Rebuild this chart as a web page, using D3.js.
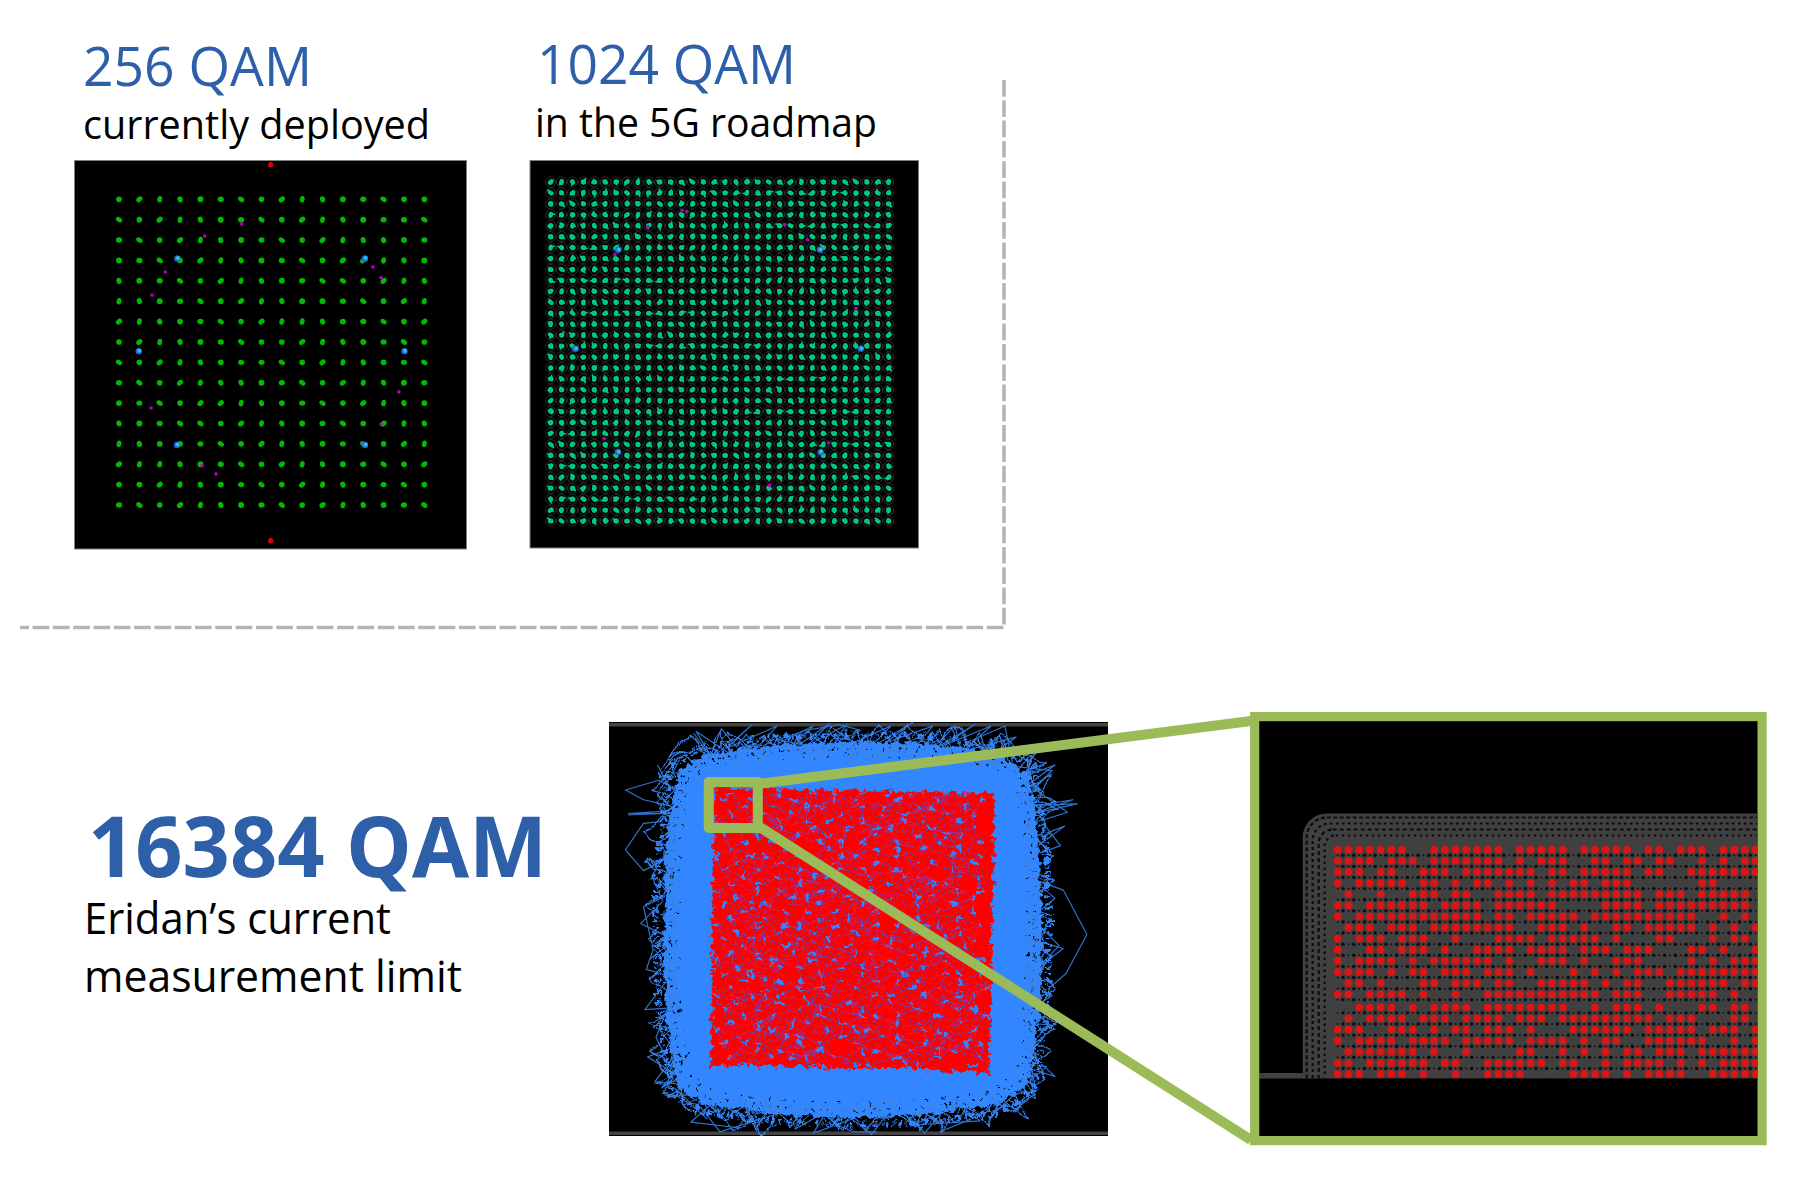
<!DOCTYPE html>
<html><head><meta charset="utf-8"><style>html,body{margin:0;background:#fff}svg{display:block}text{font-family:"Open Sans","Noto Sans",sans-serif}</style>
<script src="https://cdn.jsdelivr.net/npm/d3@7/dist/d3.min.js"></script></head><body><svg id="c" width="1812" height="1192"></svg>
<script>
// ---------- data ----------
const levels256=[-15,-13,-11,-9,-7,-5,-3,-1,1,3,5,7,9,11,13,15];
const levels1024=[-31,-29,-27,-25,-23,-21,-19,-17,-15,-13,-11,-9,-7,-5,-3,-1,1,3,5,7,9,11,13,15,17,19,21,23,25,27,29,31];
const pilots256=[[-0.1,18.4],[-0.1,-18.5]];
const blobs256=[[-9.27,9.2],[9.17,9.2],[-9.3,-9.1],[9.17,-9.1],[-13.06,0.1],[13.05,0.1]];
const stray256=[[-2.94,12.6],[-6.58,11.4],[-10.45,7.86],[-11.75,5.6],[9.96,8.35],[10.74,7.3],[-11.85,-5.48],[-5.47,-11.95],[-6.84,-11.16],[12.5,-3.9],[10.74,-7.05]];
const blobs1024=[[-18.6,18.6],[18.4,18.6],[-18.65,-18.4],[18.5,-18.4],[-26.45,0.5],[25.9,0.5]];
const stray1024=[[-6.05,25.6],[-13.15,22.8],[11.9,23.2],[16.15,20.45],[-19.2,17.7],[25,7.85],[-21.2,-15.9],[19.95,-16.7],[9.15,-24.5],[-6.9,25.8]];
// 16384 QAM: outlines and trajectories in percent of full scale, flat I,Q lists
const redOutline=[-98,101,-50,100,0,99,50,98,102,97,101,50,100,0,99,-50,98,-103,60,-102,50,-99,0,-100,-50,-98,-101,-98,-100,-50,-100,0,-99,50];
const solidOutline=[-112,100,-100,112,-60,116,0,119,60,118,100,112,113,100,120,60,122,20,121,-20,119,-60,113,-100,100,-112,60,-118,0,-120,-60,-117,-100,-110,-112,-100,-118,-60,-121,-20,-121,20,-118,60];
const haloRingA=[-118,106,-100,118,-50,123,0,125,50,124,100,118,119,104,125,60,127,0,125,-60,118,-104,100,-118,50,-124,0,-126,-50,-124,-100,-117,-116,-106,-124,-60,-126,0,-124,60];
const haloRingB=[-122,110,-102,122,-50,128,0,130,50,129,102,122,123,108,130,60,132,0,130,-60,122,-108,102,-122,50,-129,0,-131,-50,-129,-102,-122,-121,-110,-129,-60,-131,0,-129,60];
const haloRingC=[-126,114,-104,127,-50,133,0,135,50,134,104,127,127,112,135,60,137,0,135,-60,127,-112,104,-127,50,-134,0,-136,-50,-134,-104,-127,-126,-114,-134,-60,-136,0,-134,60];
const haloRingD=[-130,118,-106,132,-50,138,0,140,50,139,106,132,131,116,140,60,142,0,140,-60,131,-116,106,-132,50,-139,0,-141,-50,-139,-106,-132,-130,-118,-139,-60,-141,0,-139,60];
const tracesNear=[
[-130,118,-118,140,-104,122,-92,135,-80,120,-66,142,-52,126,-40,138,-28,122,-14,146,0,128,12,140,26,124,40,147,52,130,66,142,78,124,92,140,100,122,110,134,118,118,133,128,124,106,142,112,128,92,148,84,126,72,138,60,124,48,146,36,128,24,141,10,124,0,140,-14,126,-28,146,-40,127,-52,136,-66,124,-78,143,-88,127,-100,135,-114,118,-120,126,-136,108,-124,98,-142,86,-126,72,-140,60,-124,46,-146,32,-128,18,-138,6,-122,-8,-144,-22,-126,-36,-140,-50,-124,-64,-146,-78,-128,-92,-136,-104,-122,-116,-134,-126,-116,-142,-110,-124,-100,-146,-88,-126,-74,-137,-60,-124,-48,-148,-36,-127,-22,-140,-10,-124,2,-146,16,-128,30,-136,44,-124,56,-150,70,-128,84,-142,98,-124,108,-130,118],
[-122,126,-110,132,-96,128,-88,143,-73,130,-60,134,-46,128,-33,143,-20,132,-6,136,8,129,20,144,33,131,47,137,60,129,74,146,84,133,96,130,108,140,122,124,138,120,128,112,136,100,126,86,142,76,130,66,145,54,129,42,134,30,125,18,144,4,130,-8,136,-22,125,-34,141,-46,131,-60,146,-72,128,-84,132,-96,140,-106,122,-112,130,-124,112,-132,104,-122,90,-136,78,-128,66,-144,54,-130,40,-134,26,-125,12,-145,-2,-131,-16,-136,-30,-126,-44,-142,-58,-130,-70,-134,-84,-144,-98,-126,-110,-130,-122,-122,-134,-118,-130,-104,-140,-94,-127,-82,-142,-70,-130,-56,-134,-42,-125,-30,-143,-14,-129,-2,-135,12,-126,24,-146,38,-130,50,-137,62,-127,76,-140,90,-128,100,-138,112,-122,126],
[-112,132,-98,124,-84,136,-70,126,-58,138,-44,132,-30,127,-16,139,-3,125,10,134,22,128,36,140,50,127,62,135,76,129,88,134,102,124,112,129,126,118,132,106,123,94,137,82,127,70,132,58,124,44,139,32,128,16,133,2,124,-10,137,-24,129,-38,134,-50,125,-64,139,-76,129,-90,126,-102,133,-112,124,-124,114,-128,100,-130,88,-138,76,-126,62,-133,50,-127,38,-140,24,-125,10,-133,-4,-127,-18,-139,-32,-128,-46,-132,-60,-125,-74,-138,-88,-127,-100,-132,-112,-124,-124,-110,-132,-100,-126,-88,-139,-76,-125,-64,-132,-50,-127,-36,-138,-24,-125,-10,-133,6,-128,18,-139,32,-125,46,-132,60,-127,72,-137,84,-125,96,-133,106,-124,118,-112,132],
[-136,108,-120,128,-108,116,-94,144,-84,122,-72,134,-60,120,-50,142,-36,124,-22,130,-10,120,4,143,16,122,30,132,44,121,58,140,70,122,84,136,94,120,106,138,116,112,130,124,122,98,146,92,125,80,132,68,122,52,143,40,124,26,130,12,122,-4,146,-18,124,-32,133,-44,122,-58,148,-68,125,-82,131,-94,122,-108,134,-120,116,-130,106,-116,94,-140,82,-122,70,-132,56,-122,42,-144,30,-124,16,-130,2,-120,-12,-142,-26,-122,-40,-132,-54,-120,-68,-143,-82,-124,-96,-134,-106,-118,-120,-128,-128,-106,-136,-116,-122,-80,-144,-66,-122,-54,-131,-40,-122,-26,-145,-8,-124,6,-132,20,-122,34,-146,46,-125,60,-135,72,-122,88,-146,102,-126,108,-136,108]
];
const tracesFar=[
[133,35,152,28,169,-4,154,-32,139,-45],
[126,89,162,90,130,83,159,93,128,88],
[128,98,144,114,116,117,110,146,87,136,99,122],
[140,69,153,74,130,57],
[138,-10,152,-14,135,-27],
[130,-68,143,-69,128,-76],
[121,-97,140,-99,118,-118,104,-131,99,-116],
[63,-146,85,-137,90,-123],
[18,-146,1,-146,-13,-140,6,-128],
[-109,-128,-95,-146,-57,-134,-37,-130],
[-142,-110,-119,-112,-133,-121,-105,-118],
[-131,78,-150,76,-163,57,-150,42,-130,52],
[-127,100,-139,107,-163,100,-150,93,-128,88],
[-161,83,-114,86],[-161,82,-120,84],[-161,83,-126,83],
[-114,141,-102,124,-94,144,-83,131,-76,140,-64,124],
[-140,118,-133,105,-124,122],
[-125,28,-150,16,-143,-15,-148,-29,-131,-34,-149,-58,-119,-56],
[-138,-73,-126,-89,-142,-110],
[74,146,78,131,72,144,60,132],
[-9,147,-33,143,-54,136,-20,130,6,143,-9,147],
[-128,64,-144,38,-136,20,-152,4,-128,-8,-146,-22],
[-126,-40,-141,-78,-128,-104,-147,-92,-120,-82],
[-70,-126,-82,-143,-116,-139,-98,-123,-124,-118,-104,-137],
[-30,-124,-41,-144,-18,-131,-28,-147,2,-136,14,-148,30,-127],
[38,-126,52,-147,66,-131,44,-141,92,-138,74,-124],
[110,-110,132,-122,126,-100,146,-106,122,-84,137,-92],
[124,-60,144,-48,128,-34,149,-12,129,8,146,22,126,40],
[128,52,150,60,136,78,155,84,127,104,146,118,120,108],
[98,124,118,138,80,128,100,146,66,132,88,147,54,126],
[40,124,58,146,24,134,44,149,10,128,28,146,-6,131],
[-18,126,-4,147,-32,132,-16,148,-46,127,-28,146,-60,130],
[-72,126,-54,146,-90,130,-72,147,-100,122,-112,142,-88,126]
];
// blue gaps in the red square (rows of cells; mark shows the gap's direction)
const gapRows=[
"..-...o..|....-..o...-.../..o....-..|...",
".o...|.....-.....|..o.....-.....o.....-.",
"....-...o....|.-.....-..|....o.-....|...",
"..|....-...-......o.....o..-.....|...o..",
"-....o...|...o..-....|.....-..o....-....",
"...-.....-..../....o...-.|.....-.....o..",
".o....|.....o...-......o.....|...-.|....",
"....-...-.|....-..|..-....o.....o.....-.",
"..o.......o.....o....../..-...-....|....",
"|....-.|....-.....-.o.....|.......o...o.",
"...o.....-....|..o.....-.....o.-.....-..",
".-....o.....o.....-..|....-.......|.....",
"....|....-....-.o.....o....|.o.....-..o.",
"..-...-.....|......-.....-.....-.o......",
"o.....|..o.....-.o....|.....o......|..-.",
"...-.......-.|.....-.....o...-.-.....o..",
".|...o.-.......o.....|.-.....|....-.....",
"....-.....|..-...-.....o..-.....o....|..",
"..o....o.......o...|.........o.....-....",
"-.....-...-.|....-...o.-..|...-.o.....o.",
"...|.....o....o.....-.......-......|....",
".o...-.|....-...|......o.|.....o.-...-..",
"....o.....-.....o..-.....-..o.......o...",
"..-...-....o..-.....|.o.....-.|.-.......",
"|.....o.|.....-..o.......-.......o..|.-.",
"...-.....-..o.....-..|.o....o.-.........",
".o...|.........|.....-.....|.....-.o..o.",
"....-..o.-..o.....o....-..o..-.....|....",
"..|.........-..-....|.......-...o......-",
"-....o.|.o......o......o.-....|....-.o..",
"...-.....-...|.....-.....o..o....-......",
".o....-.....-..o.|...|.......-.....o.|..",
"....|...o......-.....o.-..|.....-......-",
"..-...-....|.o....-.......o..o.....o....",
"o.....|.-.......o...|.-.......-.|....-..",
"...o......o.-.....-.....o.|......o......",
".-..|.-.....|..o....o.....-...-.....|.o.",
"......o..-.....-.....|.-....o...|.-.....",
"..|.....o..-.|...o........-.....-.....o.",
".o..-.........-.....-.o....|.o.......-.."
];
// close-up of the top-left corner: one string per symbol row, X = symbol hit
const zoomRows=[
"XXXXXXX..XXXXXXX.XXXXX.XXXXX.XX.XXX.XXXX",
"XXXX.XXX.XXXXXXX.X.XXX..XX.XX.XX..X.X.XX",
"XXX.XX..XXX.XXXXXXX.XX.XXXXX.XX..XXXXXXX",
"X.XXXXX.XX.X.XX.X.X.X.XX.XXX......XX....",
".X..X..XXX.XX..XXXX.XXXXXXXXX.XXX.XXXXX.",
"XX.XXXXXX.XXXX.XXXXXX....XXXX.XXXXXXXXX.",
"X.XXXXXXXXXXXX.XX.XXXXX.XXXXXXXXXX..X.X.",
".XXX.XXX.XXXXXXXX..XXX.X..XX.XXXXX.X.X.X",
"X.XXX.XXX..X...XXXX.XXXXX.X...XX...X.XX.",
"X..XX.XXX.X..XXXX.XXXX.XXX.XXX...XX.X..X",
"X.XXXX.X.XXXXXX.X..XXX.X..XXX....X.X.XXX",
"XXXX.X.XX.XXX.XXX.X...X.X.X.XXX.XXXXXXXX",
".XX.X...XX.XXX.XX..XXXXX.X.XX..XXXXXX.XX",
"XX.XXXX.X..X..XXXXXXXXXXX.XXX..XXXXX.X..",
"..XXXX.X.XXXX.XXXXXXXX..X.XXX.X...XX.XX.",
".X.XXXX.XXX.XXXX.XXX.XXXXXXXXX.XXX...XX.",
"XXX..XXX.X.XX.XXX.X...XXXXXX.XXXXX.XXX.X",
"X.XXXX.XXXX.XXXXX.XXXX.X.XX..XXXXXX..X.X",
".XXXXXXX.X..X....XX..X.X.X.XX.XXX.XXXXXX",
"XX.XXXXXX.XX..XXXXXX.XX..X.XXXX.X.X.XXXX",
"XXX.XXX.X..X..XXXX....XXXX.X.XXXX..XXXXX"
];
const zoomRowLevels=[0,1,2,3,4,5,6,7,8,9,10,11,12,13,14.18,15.18,16.18,17.18,18.18,19.18,20.18];
const labels=[
 {t:"256 QAM",x:83,y:86,w:229,s:55,c:"#2e5fa9",b:400},
 {t:"currently deployed",x:83,y:139,w:347,s:40,c:"#000",b:400},
 {t:"1024 QAM",x:537,y:84,w:259,s:55,c:"#2e5fa9",b:400},
 {t:"in the 5G roadmap",x:535,y:137,w:342,s:40,c:"#000",b:400},
 {t:"16384 QAM",x:88,y:877,w:459,s:84,c:"#2e5fa9",b:700},
 {t:"Eridan’s current",x:84,y:934,w:307,s:44,c:"#000",b:400},
 {t:"measurement limit",x:84,y:992,w:378,s:44,c:"#000",b:400}
];
// ---------- drawing ----------
const svg=d3.select("#c");
const defs=svg.append("defs");
[["soft",0.45],["softer",0.7]].forEach(([id,sd])=>defs.append("filter").attr("id",id).attr("x",-0.05).attr("y",-0.05).attr("width",1.1).attr("height",1.1).append("feGaussianBlur").attr("stdDeviation",sd));
function warp(id,freq,scale,sd){
  const f=defs.append("filter").attr("id",id).attr("x",-0.1).attr("y",-0.1).attr("width",1.2).attr("height",1.2);
  f.append("feTurbulence").attr("type","fractalNoise").attr("baseFrequency",freq).attr("numOctaves",2).attr("seed",4).attr("result","n");
  f.append("feDisplacementMap").attr("in","SourceGraphic").attr("in2","n").attr("scale",scale).attr("xChannelSelector","R").attr("yChannelSelector","G").attr("result","d");
  f.append("feGaussianBlur").attr("in","d").attr("stdDeviation",sd);
}
warp("warpFine",0.16,11,0.45);
warp("warpWide",0.035,20,0.4);
const clip=(id,x,y,w,h)=>defs.append("clipPath").attr("id",id).append("rect").attr("x",x).attr("y",y).attr("width",w).attr("height",h);
const cross=(a)=>a.flatMap(q=>a.map(i=>[i,q]));
const forms=[[2.6,2.3,0],[2.9,2.0,35],[2.4,2.4,0],[2.9,2.1,-40],[2.1,2.8,10],[2.6,2.2,70],[2.5,2.5,0]];
function constellation(o){
  const g=svg.append("g");
  g.append("rect").attr("x",o.x0).attr("y",o.y0).attr("width",o.x1-o.x0).attr("height",o.y1-o.y0).attr("fill","#000").attr("stroke","#808080").attr("stroke-width",1);
  const gg=g.append("g").attr("filter","url(#soft)");
  const x=d3.scaleLinear().domain(o.dom).range(o.xr),y=d3.scaleLinear().domain([o.dom[1],o.dom[0]]).range(o.yr);
  const pts=cross(o.levels);
  if(o.ring) gg.selectAll(".r").data(pts).join("circle").attr("class","r").attr("cx",d=>x(d[0])).attr("cy",d=>y(d[1])).attr("r",o.ring).attr("fill","none").attr("stroke","#2c2c2c").attr("stroke-width",1);
  gg.selectAll(".d").data(pts).join("ellipse").attr("class","d")
    .each(function(d,i){const f=forms[(i*3+(i%17)*5)%forms.length];d3.select(this).attr("rx",f[0]*o.k).attr("ry",f[1]*o.k).attr("transform",`translate(${x(d[0])},${y(d[1])}) rotate(${f[2]})`);})
    .attr("fill",o.color);
  if(o.second) gg.selectAll(".e").data(pts).join("ellipse").attr("class","e")
    .each(function(d,i){const f=forms[(i*5+(i%13)*2)%forms.length];d3.select(this).attr("rx",f[0]*1.15).attr("ry",f[1]*.5).attr("transform",`translate(${x(d[0])+((i%3)-1)*1.3},${y(d[1])+((i%5)-2)*.7}) rotate(${f[2]+45})`);})
    .attr("fill",o.color);
  (o.pilots||[]).forEach(d=>gg.append("circle").attr("cx",x(d[0])).attr("cy",y(d[1])).attr("r",2.6).attr("fill","#e00000"));
  o.stray.forEach(d=>gg.append("circle").attr("cx",x(d[0])).attr("cy",y(d[1])).attr("r",1.8).attr("fill","#b800b8"));
  o.blobs.forEach(d=>{gg.append("circle").attr("cx",x(d[0])).attr("cy",y(d[1])).attr("r",3.2).attr("fill","#2a60d8");
    gg.append("circle").attr("cx",x(d[0])+.6).attr("cy",y(d[1])-.4).attr("r",1.9).attr("fill","#20c8e0");});
}
constellation({x0:74.5,x1:466.5,y0:160.5,y1:549,dom:[-15,15],xr:[119,424.3],yr:[199.3,505],levels:levels256,color:"#00bc00",k:1.18,blobs:blobs256,stray:stray256,pilots:pilots256});
constellation({x0:530,x1:918.5,y0:160.5,y1:548,dom:[-31,31],xr:[550.7,888.7],yr:[182,521],levels:levels1024,color:"#00c880",k:1.12,ring:5,second:true,blobs:blobs1024,stray:stray1024});
// dashed separator
svg.append("path").attr("d","M1004,80V627.5H20").attr("fill","none").attr("stroke","#b5b5b5").attr("stroke-width",3.6).attr("stroke-dasharray","16.7 3.6");
// 16384 panel
clip("bigClip",609,722,499,414);
const big=svg.append("g");
big.append("rect").attr("x",609).attr("y",722).attr("width",499).attr("height",414).attr("fill","#000");
big.append("rect").attr("x",609).attr("y",723).attr("width",499).attr("height",3.5).attr("fill","#444");
big.append("rect").attr("x",609).attr("y",1131.5).attr("width",499).attr("height",3.5).attr("fill","#444");
const bx=d3.scaleLinear().domain([-100,100]).range([713,991]),by=d3.scaleLinear().domain([100,-100]).range([790,1068]);
const pair=a=>d3.pairs(a).filter((_,i)=>i%2==0);
const line=d3.line().x(d=>bx(d[0])).y(d=>by(d[1]));
const clipG=big.append("g").attr("clip-path","url(#bigClip)");
const BLUE="#3386ff";
const far=clipG.append("g").attr("filter","url(#soft)");
const halo=clipG.append("g").attr("filter","url(#warpFine)");
halo.append("path").attr("d",line(pair(haloRingD))+"Z").attr("fill","none").attr("stroke",BLUE).attr("stroke-width",6).attr("stroke-dasharray","3 3 2 4 4 3 1 4");
halo.append("path").attr("d",line(pair(haloRingC))+"Z").attr("fill",BLUE);
[[haloRingD,2.4,"2 4 1.5 5 2 3 1 6"],[haloRingC,2.2,"2 5 1.5 4 2 6 1 5"],[haloRingB,1.9,"1.6 6 1.5 8 2 5 1 9"],[haloRingA,1.6,"1.4 12 1.2 17 2 10"]].forEach(([r,w,da])=>
  halo.append("path").attr("d",line(pair(r))+"Z").attr("fill","none").attr("stroke","#000").attr("stroke-width",w).attr("stroke-dasharray",da));
const wide=clipG.append("g").attr("filter","url(#warpWide)");
tracesNear.forEach(t=>wide.append("path").attr("d",line(pair(t))).attr("fill","none").attr("stroke","#3a84ea").attr("stroke-width",1.15));
tracesFar.forEach(t=>far.append("path").attr("d",line(pair(t))).attr("fill","none").attr("stroke","#2f72cc").attr("stroke-width",1.2).attr("stroke-linejoin","round"));
const field=clipG.append("g").attr("filter","url(#warpFine)");
field.append("path").attr("d",line(pair(solidOutline))+"Z").attr("fill",BLUE).attr("stroke",BLUE).attr("stroke-width",2);
field.append("path").attr("d",line(pair(redOutline))+"Z").attr("fill","#ff0000").attr("stroke","#ff0000").attr("stroke-width",3).attr("stroke-dasharray","3 1 2 2 4 1");
defs.append("clipPath").attr("id","redClip").append("path").attr("d",line(pair(redOutline))+"Z");
const gaps=[];
gapRows.forEach((row,r)=>[...row].forEach((ch,c)=>{if(ch!==".")gaps.push({ch,r,c,u:-100+(c+.5)*5,v:100-(r+.5)*5});}));
const hg=field.append("g").attr("clip-path","url(#redClip)");
const mesh=[];
gaps.forEach(a=>{gaps.filter(g=>g.r===a.r+1&&Math.abs(g.c-a.c)<=4).forEach(b=>mesh.push([a,b]));
  gaps.filter(g=>g.r===a.r+2&&Math.abs(g.c-a.c)<=2).forEach(b=>mesh.push([a,b]));});
hg.selectAll(".m").data(mesh).join("line").attr("class","m").attr("x1",d=>bx(d[0].u)).attr("y1",d=>by(d[0].v)).attr("x2",d=>bx(d[1].u)).attr("y2",d=>by(d[1].v)).attr("stroke","#6a48c8").attr("stroke-width",1.05).attr("stroke-opacity",.72);
const dir={"-":[2.4,0.4],"|":[0.4,2.4],"/":[1.8,-1.8],"o":[0.7,0.7]};
hg.selectAll(".h").data(gaps).join("line").attr("class","h").attr("x1",d=>bx(d.u)-dir[d.ch][0]).attr("y1",d=>by(d.v)-dir[d.ch][1]).attr("x2",d=>bx(d.u)+dir[d.ch][0]).attr("y2",d=>by(d.v)+dir[d.ch][1]).attr("stroke",BLUE).attr("stroke-width",2.6).attr("stroke-linecap","round");
// close-up panel
const OLIVE="#9bbb59";
clip("zoomClip",1259.3,721,497.7,415);
clip("grayClip",1259.3,700,497.7,378.5);
const zp=svg.append("g");
zp.append("rect").attr("x",1254).attr("y",716).attr("width",508).attr("height",425).attr("fill","#000");
const zi=zp.append("g").attr("clip-path","url(#zoomClip)").append("g").attr("filter","url(#soft)");
const grayG=zi.append("g").attr("clip-path","url(#grayClip)");
grayG.append("rect").attr("x",1302.7).attr("y",813.5).attr("width",520).attr("height",330).attr("rx",24).attr("fill","#404040");
zi.append("rect").attr("x",1259).attr("y",1073).attr("width",46).attr("height",5.5).attr("fill","#404040");
[[4,"4 2.5"],[10,"3 3"],[16,"4 3"],[22,"2.5 3.5"]].forEach(([ins,da])=>grayG.append("rect").attr("x",1302.7+ins).attr("y",813.5+ins).attr("width",520-ins).attr("height",330).attr("rx",22-ins/2).attr("fill","none").attr("stroke","#0c0c0c").attr("stroke-width",2.2).attr("stroke-dasharray",da));
const zx=d3.scaleLinear().domain([0,39]).range([1337.7,1755.7]),zy=d3.scaleLinear().domain([0,20.18]).range([849.7,1074]);
const nCols=zoomRows[0].length;
const dotsBig=[],dotsSmall=[];
zoomRowLevels.forEach(r=>d3.range(nCols).forEach(c=>{dotsBig.push([c+.5,r+.5]);dotsSmall.push([c,r+.5]);}));
grayG.selectAll(".b").data(dotsBig).join("circle").attr("class","b").attr("cx",d=>zx(d[0])).attr("cy",d=>zy(d[1])).attr("r",1.7).attr("fill","#0a0a0a");
grayG.selectAll(".s").data(dotsSmall).join("circle").attr("class","s").attr("cx",d=>zx(d[0])).attr("cy",d=>zy(d[1])).attr("r",.95).attr("fill","#111");
const hits=[];
zoomRows.forEach((row,r)=>[...row].forEach((ch,c)=>{if(ch==="X")hits.push([c,zoomRowLevels[r]]);}));
zi.selectAll(".z").data(hits).join("circle").attr("class","z").attr("cx",d=>zx(d[0])).attr("cy",d=>zy(d[1])).attr("r",3.9).attr("fill","#dc1212");
// callout
const cal=svg.append("g").attr("stroke",OLIVE).attr("fill","none");
cal.append("path").attr("d","M758,784L1251,721").attr("stroke-width",10);
cal.append("path").attr("d","M758,826L1251,1140").attr("stroke-width",10);
cal.append("rect").attr("x",708.7).attr("y",782).attr("width",49.1).attr("height",46).attr("stroke-width",10).attr("stroke-linejoin","round");
cal.append("rect").attr("x",1254.7).attr("y",716.6).attr("width",507.4).attr("height",424).attr("stroke-width",9.2);
// labels
svg.selectAll(".lab").data(labels).join("text").attr("class","lab").attr("x",d=>d.x).attr("y",d=>d.y).text(d=>d.t)
  .attr("font-size",d=>d.s).attr("font-weight",d=>d.b).attr("fill",d=>d.c)
  .attr("textLength",d=>d.w).attr("lengthAdjust","spacingAndGlyphs");
</script></body></html>
